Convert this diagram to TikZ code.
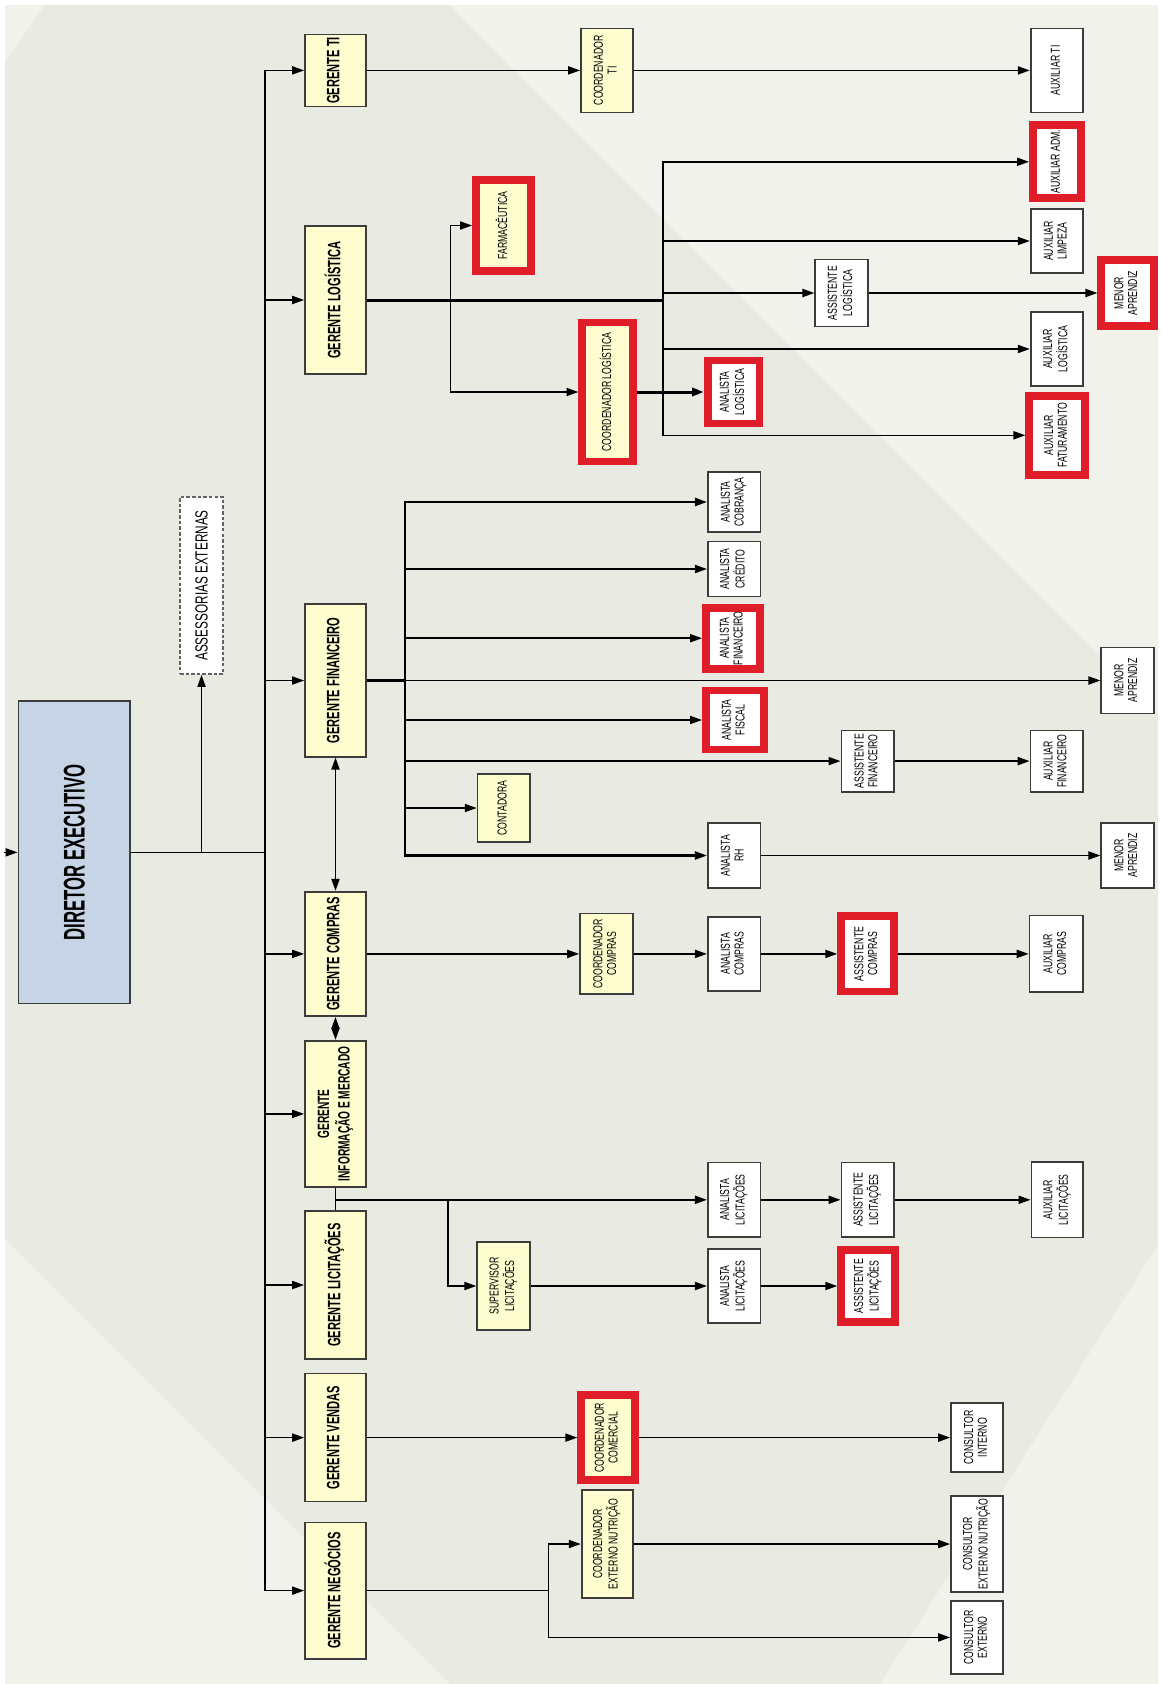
\documentclass[tikz,border=0pt]{standalone}
\usepackage{fontspec}
\setmainfont{Liberation Sans}[FakeStretch=0.67]
\newfontfamily\gerfont{Liberation Sans}[FakeStretch=0.62]
\newfontfamily\dirfont{Liberation Sans}[FakeStretch=0.56]
\usetikzlibrary{arrows.meta}
\newcommand{\pxl}{0.02cm}
\newcommand{\vtx}[1]{\rotatebox{90}{\begin{tabular}{@{}c@{}}#1\end{tabular}}}
\definecolor{bgA}{HTML}{E9EAE1}
\definecolor{bgB}{HTML}{F2F2EC}
\definecolor{yel}{HTML}{FDFDCF}
\definecolor{blu}{HTML}{C6D4E5}
\definecolor{redf}{HTML}{E01E2A}
\definecolor{edge}{HTML}{3C3C3C}
\tikzset{
  sz/.style 2 args={minimum width=#1*\pxl, minimum height=#2*\pxl},
  rsz/.style 2 args={minimum width=(#1-8)*\pxl, minimum height=(#2-8)*\pxl},
  smallfont/.style={font=\fontsize{7.4}{7.8}\selectfont},
  ybox/.style={draw=edge, line width=1pt, fill=yel, inner sep=0pt, smallfont},
  wbox/.style={draw=edge, line width=1pt, fill=white, inner sep=0pt, smallfont},
  rwbox/.style={draw=redf, line width=4.5pt, fill=white, inner sep=0pt, smallfont},
  rybox/.style={rwbox, fill=yel},
  gbox/.style={draw=edge, line width=1pt, fill=yel, inner sep=0pt, font=\gerfont\bfseries\fontsize{10.2}{11.3}\selectfont},
  dbox/.style={draw=edge, line width=1pt, fill=blu, inner sep=0pt, font=\dirfont\bfseries\fontsize{17}{19}\selectfont},
  abox/.style={draw=edge!80, line width=1pt, dash pattern=on 2pt off 1.2pt, fill=white, inner sep=0pt, font=\fontsize{10}{11}\selectfont},
  ln/.style={draw=black, line width=0.9pt},
  thk/.style={draw=black, line width=1.7pt},
  arr/.style={ln, -{Triangle[length=6.8pt,width=4.6pt]}},
  arrthk/.style={thk, -{Triangle[length=6.8pt,width=4.6pt]}},
  darr/.style={ln, {Triangle[length=6.8pt,width=4.6pt]}-{Triangle[length=6.8pt,width=4.6pt]}}
}
\begin{document}
\begin{tikzpicture}[x=0.02cm,y=-0.02cm]
% background
\useasboundingbox (0,0) rectangle (1162,1684);
\fill[white] (0,0) rectangle (1162,1684);
\fill[bgA] (5,5) rectangle (1158,1684);
\fill[bgB] (449,5) -- (1158,5) -- (1158,714) -- cycle;
\fill[bgB] (5,1239) -- (450,1684) -- (5,1684) -- cycle;
\fill[bgB] (1158,1245) -- (880,1684) -- (1158,1684) -- cycle;
\fill[bgB] (5,5) -- (45,5) -- (5,62) -- cycle;

% director and advisory
\node[dbox, sz={111.7}{302.3}] (dir) at (74.25,852.35) {\rotatebox{90}{DIRETOR EXECUTIVO}};
\node[abox, sz={43}{177}] (ass) at (201.5,585.5) {\rotatebox{90}{ASSESSORIAS EXTERNAS}};

% managers
\node[gbox, sz={61}{72}] (gti) at (335.5,70.4) {\vtx{GERENTE TI}};
\node[gbox, sz={61}{148}] (glog) at (335.5,300) {\vtx{GERENTE LOGÍSTICA}};
\node[gbox, sz={61}{152.4}] (gfin) at (335.5,680.5) {\vtx{GERENTE FINANCEIRO}};
\node[gbox, sz={61}{124.4}] (gcomp) at (335.5,953.9) {\vtx{GERENTE COMPRAS}};
\node[gbox, sz={61}{146.3}, font=\gerfont\bfseries\fontsize{9.3}{11.3}\selectfont] (ginfo) at (335.5,1113.9) {\vtx{GERENTE\\INFORMAÇÃO E MERCADO}};
\node[gbox, sz={61}{148}] (glic) at (335.5,1285) {\vtx{GERENTE LICITAÇÕES}};
\node[gbox, sz={61}{128}] (gven) at (335.5,1437.6) {\vtx{GERENTE VENDAS}};
\node[gbox, sz={61}{136}] (gneg) at (335.5,1590.6) {\vtx{GERENTE NEGÓCIOS}};

% TI
\node[ybox, sz={52}{84}] (coordti) at (607,70.4) {\vtx{COORDENADOR\\TI}};
\node[wbox, sz={52.6}{84}] (auxti) at (1057,70.4) {\vtx{AUXILIAR TI}};

% Logistica
\node[rybox, rsz={63}{99}] (farm) at (503.5,225.5) {\vtx{FARMACÊUTICA}};
\node[rybox, rsz={58.4}{147}] (coordlog) at (607.6,392) {\vtx{COORDENADOR LOGÍSTICA}};
\node[rwbox, rsz={59.5}{71}] (anlog) at (733.7,392) {\vtx{ANALISTA\\LOGÍSTICA}};
\node[wbox, sz={53}{67}] (assislog) at (841.8,293) {\vtx{ASSISTENTE\\LOGÍSTICA}};
\node[rwbox, rsz={60.3}{74}] (menorlog) at (1127.5,293) {\vtx{MENOR\\APRENDIZ}};
\node[rwbox, rsz={56}{81}] (auxadm) at (1057,161.8) {\vtx{AUXILIAR ADM.}};
\node[wbox, sz={52.6}{63.4}] (auxlimp) at (1057,241) {\vtx{AUXILIAR\\LIMPEZA}};
\node[wbox, sz={52.6}{73.8}] (auxlogi) at (1057,349) {\vtx{AUXILIAR\\LOGÍSTICA}};
\node[rwbox, rsz={63.7}{87.4}] (auxfat) at (1057.2,435.3) {\vtx{AUXILIAR\\FATURAMENTO}};

% Financeiro
\node[wbox, sz={52.6}{59.5}] (ancob) at (734.1,502) {\vtx{ANALISTA\\COBRANÇA}};
\node[wbox, sz={52.6}{55}] (ancred) at (734.1,569) {\vtx{ANALISTA\\CRÉDITO}};
\node[rwbox, rsz={62.2}{69}] (anfin) at (733.1,638.2) {\vtx{ANALISTA\\FINANCEIRO}};
\node[wbox, sz={52.6}{66}] (menorfin) at (1127.6,680.5) {\vtx{MENOR\\APRENDIZ}};
\node[rwbox, rsz={66}{67}] (anfisc) at (735,720) {\vtx{ANALISTA\\FISCAL}};
\node[wbox, sz={52.6}{61.4}] (assisfin) at (867.7,761.1) {\vtx{ASSISTENTE\\FINANCEIRO}};
\node[wbox, sz={52.6}{61.4}] (auxfin) at (1056.8,761.1) {\vtx{AUXILIAR\\FINANCEIRO}};
\node[ybox, sz={52.4}{68}] (contadora) at (503.8,808) {\vtx{CONTADORA}};
\node[wbox, sz={52.6}{64.5}] (anrh) at (734.1,855.5) {\vtx{ANALISTA\\RH}};
\node[wbox, sz={52.6}{64.5}] (menorrh) at (1127.6,855.5) {\vtx{MENOR\\APRENDIZ}};

% Compras
\node[ybox, sz={53}{80.6}] (coordcomp) at (606.5,953.9) {\vtx{COORDENADOR\\COMPRAS}};
\node[wbox, sz={52.6}{74.4}] (ancomp) at (734.1,953.9) {\vtx{ANALISTA\\COMPRAS}};
\node[rwbox, rsz={60.6}{83.2}] (assiscomp) at (867.5,953.9) {\vtx{ASSISTENTE\\COMPRAS}};
\node[wbox, sz={53.7}{76.8}] (auxcomp) at (1056.4,953.9) {\vtx{AUXILIAR\\COMPRAS}};

% Licitacoes
\node[wbox, sz={52.6}{74.8}] (anlic1) at (734.1,1199.8) {\vtx{ANALISTA\\LICITAÇÕES}};
\node[wbox, sz={52.6}{74.8}] (assislic1) at (867.7,1199.8) {\vtx{ASSISTENTE\\LICITAÇÕES}};
\node[wbox, sz={51.8}{75.2}] (auxlic) at (1057.3,1199.8) {\vtx{AUXILIAR\\LICITAÇÕES}};
\node[ybox, sz={52.8}{88.7}] (superv) at (503.6,1286) {\vtx{SUPERVISOR\\LICITAÇÕES}};
\node[wbox, sz={52.6}{74.5}] (anlic2) at (734.1,1286) {\vtx{ANALISTA\\LICITAÇÕES}};
\node[rwbox, rsz={61.8}{79.4}] (assislic2) at (868.1,1286) {\vtx{ASSISTENTE\\LICITAÇÕES}};

% Vendas / Negocios
\node[rybox, rsz={61.4}{92.4}] (coordcom) at (608,1437.6) {\vtx{COORDENADOR\\COMERCIAL}};
\node[wbox, sz={52.3}{69}] (consint) at (977.2,1437.6) {\vtx{CONSULTOR\\INTERNO}};
\node[ybox, sz={51}{108}] (coordnut) at (607.2,1544) {\vtx{COORDENADOR\\EXTERNO NUTRIÇÃO}};
\node[wbox, sz={52.3}{96.3}] (consnut) at (977.2,1544) {\vtx{CONSULTOR\\EXTERNO NUTRIÇÃO}};
\node[wbox, sz={52.3}{73.3}] (consext) at (977.2,1637.4) {\vtx{CONSULTOR\\EXTERNO}};

% ---------- connectors ----------
\coordinate (trk) at (265,0);
\coordinate (lin) at (4,852.35);
\draw[ln] (gti.west -| trk) -- (gneg.west -| trk);
\draw[ln] (dir.east) -- (dir.east -| trk);
\draw[arr] (dir.east -| ass.south) -- (ass.south);
\draw[arr] (lin) -- (dir.west);
\foreach \g in {gti,glog,gfin,gcomp,ginfo,glic,gven,gneg}
  \draw[arr] (\g.west -| trk) -- (\g.west);

% TI
\draw[arr] (gti) -- (coordti);
\draw[arr] (coordti) -- (auxti);

% Logistica
\coordinate (lv1) at (450.5,0);
\coordinate (lv2) at (663,0);
\draw[thk] (glog.east) -- (glog.east -| lv2);
\draw[arr] (coordlog.west -| lv1) -- (farm.west -| lv1) -- (farm.west);
\draw[arr] (farm.west -| lv1) -- (coordlog.west -| lv1) -- (coordlog.west);
\draw[arrthk] (coordlog) -- (anlog);
\draw[arr] (auxfat.west -| lv2) -- (auxadm.west -| lv2) -- (auxadm.west);
\draw[arr] (auxadm.west -| lv2) -- (auxfat.west -| lv2) -- (auxfat.west);
\draw[arr] (auxlimp.west -| lv2) -- (auxlimp.west);
\draw[arr] (assislog.west -| lv2) -- (assislog.west);
\draw[arr] (auxlogi.west -| lv2) -- (auxlogi.west);
\draw[arr] (assislog) -- (menorlog);

% Financeiro
\coordinate (fv) at (405,0);
\draw[thk] (gfin.east) -- (gfin.east -| fv);
\draw[arr, line width=1.2pt] (anrh.west -| fv) -- (ancob.west -| fv) -- (ancob.west);
\draw[arr, line width=1.2pt] (ancob.west -| fv) -- (anrh.west -| fv) -- (anrh.west);
\foreach \n in {ancred,anfin,menorfin,anfisc,assisfin,contadora}
  \draw[arr] (\n.west -| fv) -- (\n.west);
\draw[arr] (assisfin) -- (auxfin);
\draw[arr] (anrh) -- (menorrh);

% Compras
\draw[arr] (gcomp) -- (coordcomp);
\draw[arr] (coordcomp) -- (ancomp);
\draw[arr] (ancomp) -- (assiscomp);
\draw[arr] (assiscomp) -- (auxcomp);
\draw[darr] (gfin.south) -- (gcomp.north);
\draw[darr] (gcomp.south) -- (ginfo.north);

% Licitacoes
\coordinate (lv) at (447.8,0);
\draw[ln] (ginfo.south) -- (glic.north);
\draw[arr] (ginfo.south |- anlic1.west) -- (anlic1.west);
\draw[arr] (lv |- anlic1.west) |- (superv.west);
\draw[arr] (anlic1) -- (assislic1);
\draw[arr] (assislic1) -- (auxlic);
\draw[arr] (superv) -- (anlic2);
\draw[arr] (anlic2) -- (assislic2);

% Vendas
\draw[arr] (gven) -- (coordcom);
\draw[arr] (coordcom) -- (consint);

% Negocios
\coordinate (nv) at (548.3,0);
\draw[ln] (gneg.east) -- (gneg.east -| nv);
\draw[arr] (consext.west -| nv) -- (coordnut.west -| nv) -- (coordnut.west);
\draw[arr] (coordnut.west -| nv) -- (consext.west -| nv) -- (consext.west);
\draw[arr] (coordnut) -- (consnut);
\end{tikzpicture}
\end{document}
